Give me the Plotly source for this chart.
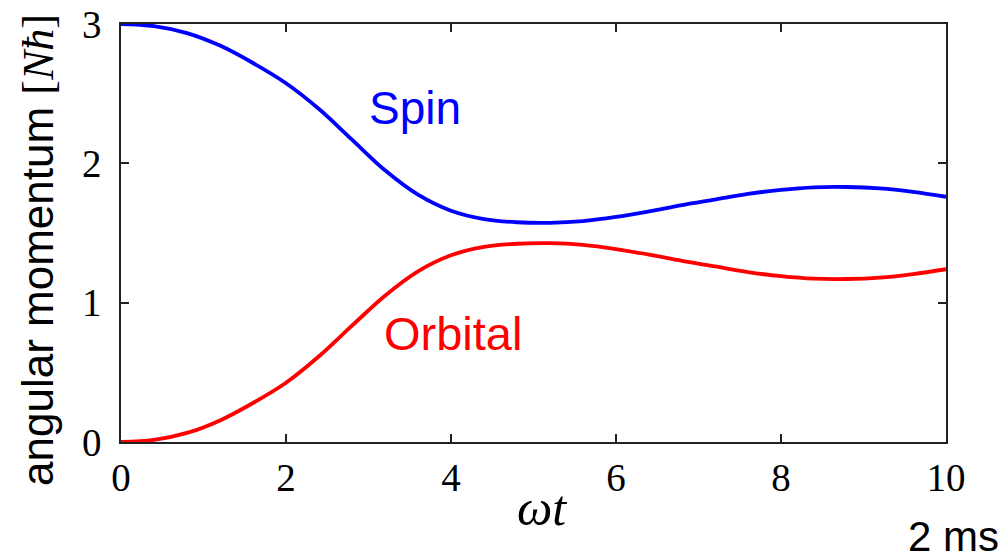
import plotly.graph_objects as go

# ---- data ----
omega_t = [0, 0.4, 0.8, 1.2, 1.6, 2.0, 2.4, 2.8, 3.2, 3.6, 4.0, 4.4, 4.8, 5.2,
           5.6, 6.0, 6.4, 6.8, 7.2, 7.6, 8.0, 8.4, 8.8, 9.2, 9.6, 10.0]
spin = [3.00, 2.985, 2.935, 2.845, 2.72, 2.575, 2.39, 2.17, 1.95, 1.775, 1.66,
        1.60, 1.577, 1.573, 1.585, 1.615, 1.655, 1.70, 1.74, 1.78, 1.81, 1.828,
        1.83, 1.82, 1.795, 1.76]
orbital = [0.00, 0.015, 0.065, 0.155, 0.28, 0.425, 0.615, 0.835, 1.05, 1.225,
           1.34, 1.40, 1.423, 1.427, 1.415, 1.385, 1.345, 1.30, 1.26, 1.22,
           1.19, 1.172, 1.17, 1.18, 1.205, 1.24]
x_ticks = [0, 2, 4, 6, 8, 10]
y_ticks = [0, 1, 2, 3]

# page offset of the plot div (default body margin)
OFF = 8
W, H = 1008 - OFF, 558 - OFF
# plot area in page pixels
PL, PR, PT, PB = 121, 946, 24, 442
L, R, T, B = PL - OFF, (W + OFF) - PR, PT - OFF, (H + OFF) - PB

def px_x(p):
    return (p - PL) / (PR - PL)

def px_y(p):
    return (PB - p) / (PB - PT)

fig = go.Figure()
fig.add_trace(go.Scatter(x=omega_t, y=spin, mode="lines", name="Spin",
                         line=dict(color="#0000ff", width=3.8, shape="spline")))
fig.add_trace(go.Scatter(x=omega_t, y=orbital, mode="lines", name="Orbital",
                         line=dict(color="#ff0000", width=3.8, shape="spline")))

axis_common = dict(showline=True, mirror="ticks", linecolor="#222222", linewidth=1.5,
                   ticks="inside", ticklen=8, tickwidth=1.5, tickcolor="#222222",
                   showgrid=False, zeroline=False, automargin=False,
                   ticklabeloverflow="allow",
                   tickfont=dict(family="Liberation Serif", size=39, color="black"))

fig.update_xaxes(range=[0, 10], tickvals=x_ticks, ticktext=[str(v) for v in x_ticks],
                 **axis_common)
fig.update_yaxes(range=[0, 3], tickvals=y_ticks, ticktext=[str(v) for v in y_ticks],
                 ticklabelstandoff=10, **axis_common)

sans = "Liberation Sans"
fig.add_annotation(x=3.56, y=2.40, xref="x", yref="y", text="Spin", showarrow=False,
                   font=dict(family=sans, size=46, color="#0000ff"))
fig.add_annotation(x=4.03, y=0.78, xref="x", yref="y", text="Orbital", showarrow=False,
                   font=dict(family=sans, size=47, color="#ff0000"))
fig.add_annotation(x=px_x(38), y=px_y(250), xref="paper", yref="paper",
                   xanchor="center", yanchor="middle",
                   text="angular momentum <span style=\"font-family:'Liberation Serif'\">[<i>Nħ</i>]</span>",
                   textangle=-90, showarrow=False,
                   font=dict(family=sans, size=44, color="black"))
fig.add_annotation(x=px_x(542), y=px_y(508), xref="paper", yref="paper",
                   xanchor="center", yanchor="middle",
                   text="<i>ωt</i>", showarrow=False,
                   font=dict(family="Liberation Serif", size=50, color="black"))
fig.add_annotation(x=px_x(1001), y=px_y(536), xref="paper", yref="paper",
                   xanchor="right", yanchor="middle", text="2 ms", showarrow=False,
                   font=dict(family=sans, size=42, color="black"))

fig.update_layout(width=W, height=H, margin=dict(l=L, r=R, t=T, b=B),
                  plot_bgcolor="white", paper_bgcolor="white", showlegend=False)

fig.write_html("out.html")
